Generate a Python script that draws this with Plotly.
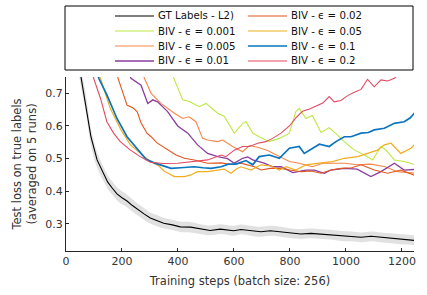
import plotly.graph_objects as go

# ---------------- data ----------------
gt_steps = [40, 54, 71, 89, 111, 130, 149, 165, 182, 200, 218, 236, 254, 280, 301, 325, 349, 380, 408,
            445, 480, 515, 551, 599, 625, 660, 696, 730, 768, 800, 839, 875, 911, 945, 982, 1020, 1054,
            1090, 1125, 1160, 1196, 1225, 1250]
gt_loss = [0.82, 0.747, 0.669, 0.567, 0.496, 0.46, 0.428, 0.41, 0.392, 0.38, 0.37, 0.357, 0.345, 0.33,
           0.318, 0.31, 0.302, 0.297, 0.291, 0.29, 0.284, 0.28, 0.284, 0.279, 0.283, 0.279, 0.276, 0.279,
           0.276, 0.272, 0.269, 0.271, 0.269, 0.267, 0.263, 0.262, 0.259, 0.262, 0.259, 0.256, 0.253,
           0.252, 0.249]
gt_std = [0.03, 0.03, 0.028, 0.026, 0.024, 0.022, 0.021, 0.02, 0.02, 0.02, 0.019, 0.019, 0.018, 0.018,
          0.017, 0.017, 0.016, 0.016, 0.016, 0.016, 0.015, 0.015, 0.015, 0.015, 0.015, 0.015, 0.015,
          0.015, 0.015, 0.015, 0.015, 0.015, 0.015, 0.015, 0.015, 0.015, 0.015, 0.015, 0.015, 0.015,
          0.015, 0.015, 0.015]

eps001_steps = [370, 385, 417, 440, 476, 500, 542, 565, 601, 631, 643, 667, 690, 726, 762, 798, 821, 833,
                857, 880, 911, 940, 970, 994, 1030, 1066, 1095, 1125, 1143, 1173, 1208, 1250]
eps001_loss = [0.79, 0.746, 0.680, 0.675, 0.659, 0.669, 0.639, 0.630, 0.578, 0.608, 0.613, 0.578, 0.567,
               0.552, 0.562, 0.578, 0.644, 0.654, 0.623, 0.632, 0.580, 0.595, 0.572, 0.552, 0.526, 0.511,
               0.496, 0.537, 0.526, 0.496, 0.491, 0.481]

eps005_steps = [265, 280, 304, 339, 387, 417, 440, 464, 488, 506, 542, 560, 595, 631, 655, 685, 720, 762,
                798, 833, 880, 917, 946, 994, 1042, 1090, 1140, 1185, 1250]
eps005_loss = [0.79, 0.746, 0.700, 0.669, 0.639, 0.623, 0.628, 0.613, 0.562, 0.557, 0.552, 0.557, 0.537,
               0.521, 0.540, 0.535, 0.525, 0.506, 0.491, 0.486, 0.475, 0.486, 0.486, 0.486, 0.481, 0.483,
               0.475, 0.460, 0.455]

eps01_steps = [215, 232, 268, 292, 310, 327, 363, 399, 435, 470, 506, 542, 577, 601, 631, 649, 667, 708,
               738, 768, 810, 857, 887, 923, 946, 994, 1040, 1089, 1125, 1173, 1208, 1250]
eps01_loss = [0.79, 0.746, 0.725, 0.669, 0.68, 0.674, 0.644, 0.600, 0.578, 0.542, 0.516, 0.506, 0.500,
              0.486, 0.501, 0.505, 0.496, 0.486, 0.475, 0.475, 0.457, 0.465, 0.465, 0.455, 0.465, 0.470,
              0.468, 0.445, 0.460, 0.486, 0.465, 0.467]

eps02_steps = [170, 186, 218, 240, 254, 268, 289, 304, 325, 348, 375, 393, 423, 458, 506, 554, 590, 625,
               673, 696, 730, 768, 800, 839, 875, 911, 946, 982, 1020, 1054, 1101, 1149, 1196, 1225, 1250]
eps02_loss = [0.80, 0.746, 0.664, 0.655, 0.644, 0.61, 0.578, 0.567, 0.548, 0.535, 0.521, 0.511, 0.501,
              0.496, 0.486, 0.487, 0.482, 0.486, 0.475, 0.465, 0.470, 0.470, 0.465, 0.460, 0.462, 0.455,
              0.465, 0.470, 0.472, 0.481, 0.465, 0.455, 0.465, 0.455, 0.447]

eps05_steps = [105, 123, 158, 195, 230, 265, 301, 331, 350, 387, 423, 446, 470, 506, 542, 565, 589, 611,
               625, 661, 696, 730, 762, 786, 821, 857, 905, 952, 994, 1042, 1077, 1113, 1137, 1161, 1196,
               1232, 1250]
eps05_loss = [0.80, 0.746, 0.654, 0.59, 0.542, 0.516, 0.491, 0.478, 0.462, 0.445, 0.445, 0.450, 0.460,
              0.460, 0.465, 0.468, 0.455, 0.470, 0.475, 0.465, 0.481, 0.478, 0.465, 0.475, 0.465, 0.481,
              0.486, 0.491, 0.501, 0.506, 0.516, 0.526, 0.542, 0.547, 0.516, 0.532, 0.547]

eps1_steps = [100, 117, 146, 182, 218, 254, 286, 315, 339, 375, 410, 458, 490, 518, 554, 580, 607, 643,
              667, 690, 726, 762, 798, 833, 851, 880, 905, 940, 964, 994, 1018, 1054, 1080, 1101, 1137,
              1173, 1208, 1230, 1250]
eps1_loss = [0.80, 0.746, 0.695, 0.623, 0.567, 0.532, 0.498, 0.487, 0.481, 0.470, 0.472, 0.475, 0.472,
             0.470, 0.475, 0.483, 0.483, 0.494, 0.481, 0.506, 0.511, 0.501, 0.532, 0.537, 0.516, 0.532,
             0.544, 0.537, 0.552, 0.567, 0.567, 0.578, 0.580, 0.588, 0.593, 0.608, 0.613, 0.625, 0.645]

eps2_steps = [85, 99, 123, 146, 170, 194, 230, 265, 301, 349, 399, 458, 506, 554, 571, 601, 631, 655,
              685, 714, 738, 768, 798, 821, 845, 870, 893, 917, 940, 958, 982, 1006, 1030, 1054, 1077,
              1101, 1125, 1149, 1173, 1190, 1220, 1250]
eps2_loss = [0.80, 0.746, 0.685, 0.613, 0.578, 0.552, 0.526, 0.506, 0.489, 0.485, 0.486, 0.491, 0.496,
             0.511, 0.506, 0.526, 0.537, 0.537, 0.547, 0.552, 0.562, 0.578, 0.600, 0.625, 0.645, 0.652,
             0.660, 0.670, 0.690, 0.674, 0.678, 0.693, 0.703, 0.712, 0.743, 0.720, 0.741, 0.738, 0.746,
             0.76, 0.77, 0.78]

legend_labels = ["GT Labels - L2)", "BIV - ϵ = 0.001", "BIV - ϵ = 0.005", "BIV - ϵ = 0.01",
                 "BIV - ϵ = 0.02", "BIV - ϵ = 0.05", "BIV - ϵ = 0.1", "BIV - ϵ = 0.2"]
x_ticks = [0, 200, 400, 600, 800, 1000, 1200]
y_ticks = [0.3, 0.4, 0.5, 0.6, 0.7]

# ---------------- styles ----------------
colors = ["#000000", "#bde843", "#f4874a", "#8a3d9e", "#e0561d", "#f0ad1e", "#0a74bf", "#e24a63"]
widths = [1.1, 1.1, 1.1, 1.3, 1.1, 1.2, 1.7, 1.1]
series = [
    (gt_steps, gt_loss), (eps001_steps, eps001_loss), (eps005_steps, eps005_loss),
    (eps01_steps, eps01_loss), (eps02_steps, eps02_loss), (eps05_steps, eps05_loss),
    (eps1_steps, eps1_loss), (eps2_steps, eps2_loss),
]

FONT = "DejaVu Sans"
fig = go.Figure()

# GT uncertainty band
upper = [m + s for m, s in zip(gt_loss, gt_std)]
lower = [m - s for m, s in zip(gt_loss, gt_std)]
fig.add_trace(go.Scatter(x=gt_steps, y=upper, mode="lines", line=dict(width=0, shape="spline"),
                         showlegend=False, hoverinfo="skip"))
fig.add_trace(go.Scatter(x=gt_steps, y=lower, mode="lines", line=dict(width=0, shape="spline"),
                         fill="tonexty", fillcolor="rgba(200,200,200,0.55)", showlegend=False,
                         hoverinfo="skip"))

# draw order: colored first, GT on top
order = [1, 2, 3, 4, 5, 6, 7, 0]
for i in order:
    xs, ys = series[i]
    fig.add_trace(go.Scatter(x=xs, y=ys, mode="lines", name=legend_labels[i],
                             line=dict(color=colors[i], width=widths[i]), showlegend=False))

# ---------------- manual legend (matplotlib-like, 2 columns) ----------------
L, R, T, B = 66, 13, 77, 44
W, H = 427, 295
pw, ph = W - L - R, H - T - B
def px(x): return (x - L) / pw
def py(y): return (H - B - y) / ph

shapes = [dict(type="rect", xref="paper", yref="paper", x0=px(65), x1=px(413), y0=py(70), y1=py(6),
               line=dict(color="#000000", width=1), fillcolor="white", layer="above")]
annotations = []
row_y = [16, 31, 46, 61]
col_x = [115, 248]
for k, i in enumerate(range(8)):
    c, r = divmod(k, 4)
    yy = py(row_y[r])
    x0 = col_x[c]
    shapes.append(dict(type="line", xref="paper", yref="paper", x0=px(x0), x1=px(x0 + 39), y0=yy, y1=yy,
                       line=dict(color=colors[i], width=widths[i] if i != 6 else 1.5), layer="above"))
    annotations.append(dict(xref="paper", yref="paper", x=px(x0 + 41), y=yy, text=legend_labels[i],
                            showarrow=False, xanchor="left", yanchor="middle",
                            font=dict(family=FONT, size=10.2, color="#111111")))

fig.update_layout(
    width=W, height=H,
    margin=dict(l=L, r=R, t=T, b=B, pad=0),
    paper_bgcolor="white", plot_bgcolor="white",
    font=dict(family=FONT, size=11, color="#333333"),
    showlegend=False,
    shapes=shapes, annotations=annotations,
    xaxis=dict(range=[0, 1243], tickvals=x_ticks, ticks="inside", ticklen=3, tickcolor="#262626",
               showline=True, linecolor="#262626", linewidth=1, showgrid=False, zeroline=False,
               automargin=False,
               tickfont=dict(family=FONT, size=11, color="#333333"),
               title=dict(text="Training steps (batch size: 256)", standoff=9,
                          font=dict(family=FONT, size=11.5, color="#333333"))),
    yaxis=dict(range=[0.217, 0.75], tickvals=y_ticks, tickformat=".1f", ticks="inside", ticklen=3,
               tickcolor="#262626", showline=True, linecolor="#262626", linewidth=1, showgrid=False,
               zeroline=False, automargin=False,
               tickfont=dict(family=FONT, size=11, color="#333333"),
               title=dict(text="Test loss on true labels<br>(averaged on 5 runs)", standoff=6,
                          font=dict(family=FONT, size=11.5, color="#333333"))),
)

fig.write_html("out.html", config={"displayModeBar": False},
               post_script="document.body.style.margin='0';")
